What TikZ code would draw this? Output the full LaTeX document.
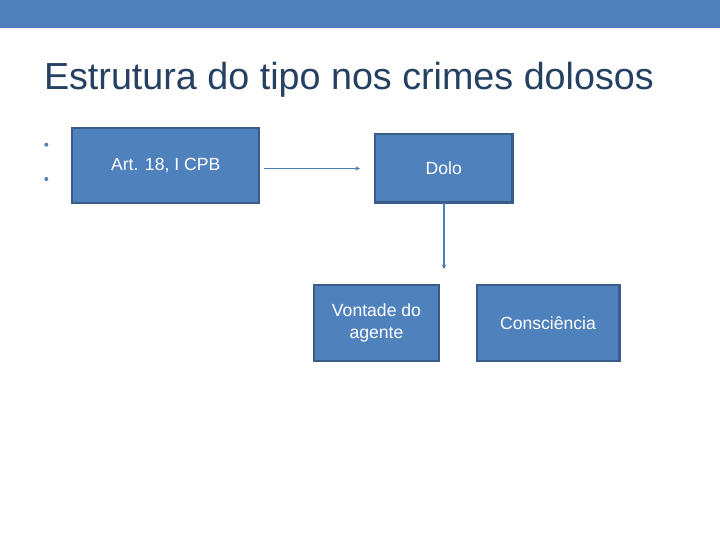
\documentclass[tikz,border=0pt]{standalone}
\usepackage{fontspec}
\setmainfont{Liberation Sans}
\usetikzlibrary{arrows.meta}
\definecolor{c4f81bd}{RGB}{79,129,189}
\definecolor{c3a5f8b}{RGB}{58,92,136}
\definecolor{c4a7ebb}{RGB}{74,126,187}
\definecolor{c264062}{RGB}{38,64,98}
\definecolor{c5a7fae}{RGB}{90,127,174}

\tikzset{
  boxed/.style={draw=c3a5f8b,fill=c4f81bd,line width=2.4pt,text=white,
    font=\fontsize{17.6}{22}\selectfont,align=center},
  link/.style={draw=c4a7ebb,line width=1.6pt,-{Stealth[length=4.5pt,width=4.5pt]}}
}

\begin{document}
\begin{tikzpicture}[y=1pt, x=1pt, yscale=-1, inner sep=0pt, outer sep=0pt]
  \useasboundingbox (0,0) rectangle (720,540);
  \path[fill=c4f81bd] (0,0) rectangle (720,28);
  \path (44,97) node[above right,text=c264062,font=\fontsize{37.7}{40}\selectfont]
    (title) {Estrutura do tipo nos crimes dolosos};
  \path[fill=c5a7fae] (46.3,144.7) circle (2pt);
  \path[fill=c5a7fae] (46.3,179) circle (2pt);
  \node[boxed,minimum width=187pt,minimum height=74.5pt] (art) at (165.7,165.5)
    {Art. 18, I CPB};
  \node[boxed,minimum width=137.7pt,minimum height=68.4pt] (dolo) at (443.8,168.5)
    {Dolo};
  \node[boxed,minimum width=125pt,minimum height=75.7pt] (vontade) at (376.5,322.9)
    {Vontade do\\agente};
  \node[boxed,minimum width=142.6pt,minimum height=75.7pt] (consc) at (548,322.9)
    {Consciência};
  \coordinate (below) at (444,269);
  \draw[link,shorten <=5pt,shorten >=15pt] (art.east |- dolo.west) -- (dolo.west);
  \draw[link] (dolo.south -| below) -- (below);
\end{tikzpicture}
\end{document}
